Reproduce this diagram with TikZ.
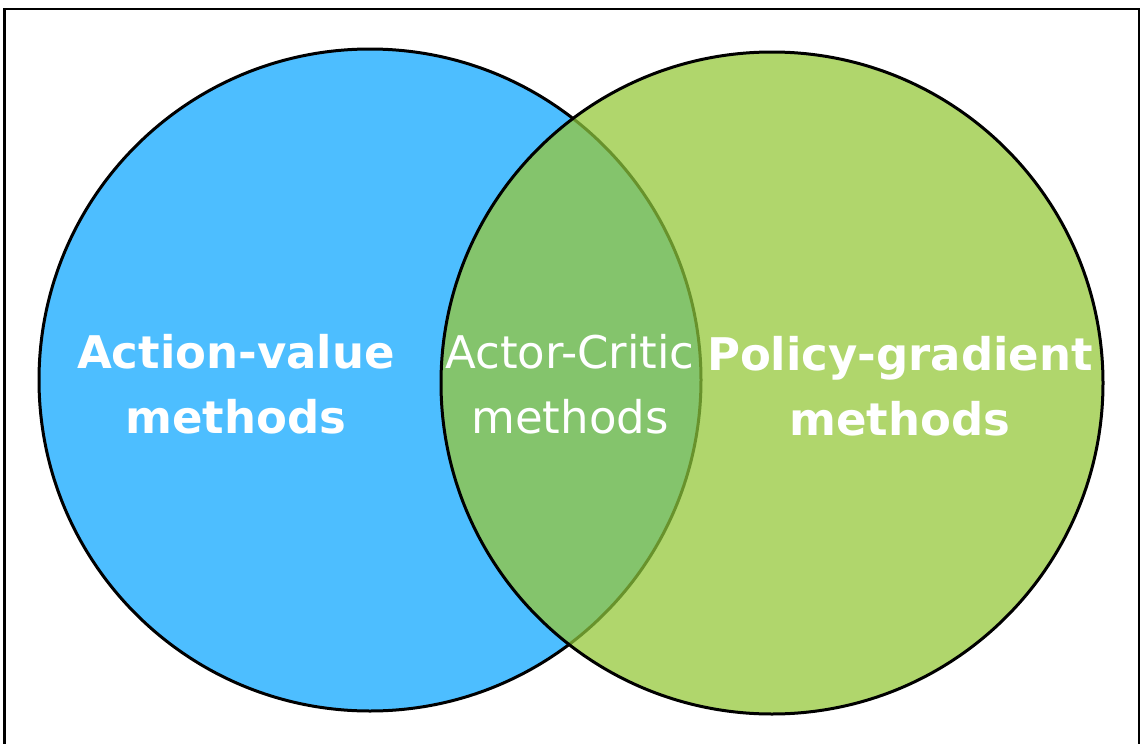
\documentclass[tikz,border=0pt]{standalone}
\usepackage{fontspec}
\setmainfont{DejaVu Sans}
\definecolor{avblue}{RGB}{77,190,255}
\definecolor{pggreen}{RGB}{176,214,108}
\definecolor{acgreen}{RGB}{132,196,108}
\definecolor{olive}{RGB}{104,146,44}
\begin{document}
\begin{tikzpicture}[x=1pt,y=-1pt,
  lbl/.style={text=white,font=\fontsize{45}{54}\selectfont\bfseries,anchor=base,inner sep=0pt},
  lblr/.style={text=white,font=\fontsize{45}{54}\selectfont,anchor=base,inner sep=0pt},
  edge/.style={line width=3pt}]
\useasboundingbox (0,0) rectangle (1141,744);
\begin{scope}
\clip (0,0) rectangle (1141,744);
\draw[line width=2.4pt] (4.5,780) -- (4.5,8.7) -- (1139,8.7) -- (1139,780);
\end{scope}
\coordinate (cl) at (370,380);
\coordinate (cr) at (772,383);
% left circle
\fill[avblue] (cl) circle (331);
\draw[edge] (cl) circle (331);
% right circle
\fill[pggreen] (cr) circle (331);
% overlap
\begin{scope}
\clip (cl) circle (331);
\fill[acgreen] (cr) circle (331);
\end{scope}
\begin{scope}
\clip (cr) circle (331);
\draw[edge,olive] (cl) circle (331);
\end{scope}
\draw[edge] (cr) circle (331);
% labels
\node[lbl] (av1) at (236,368) {Action-value};
\node[lbl] (av2) at (236,433) {methods};
\node[lblr] (ac1) at (570,368) {Actor-Critic};
\node[lblr] (ac2) at (570,433) {methods};
\node[lbl] (pg1) at (900,370) {Policy-gradient};
\node[lbl] (pg2) at (900,435) {methods};
\end{tikzpicture}
\end{document}
